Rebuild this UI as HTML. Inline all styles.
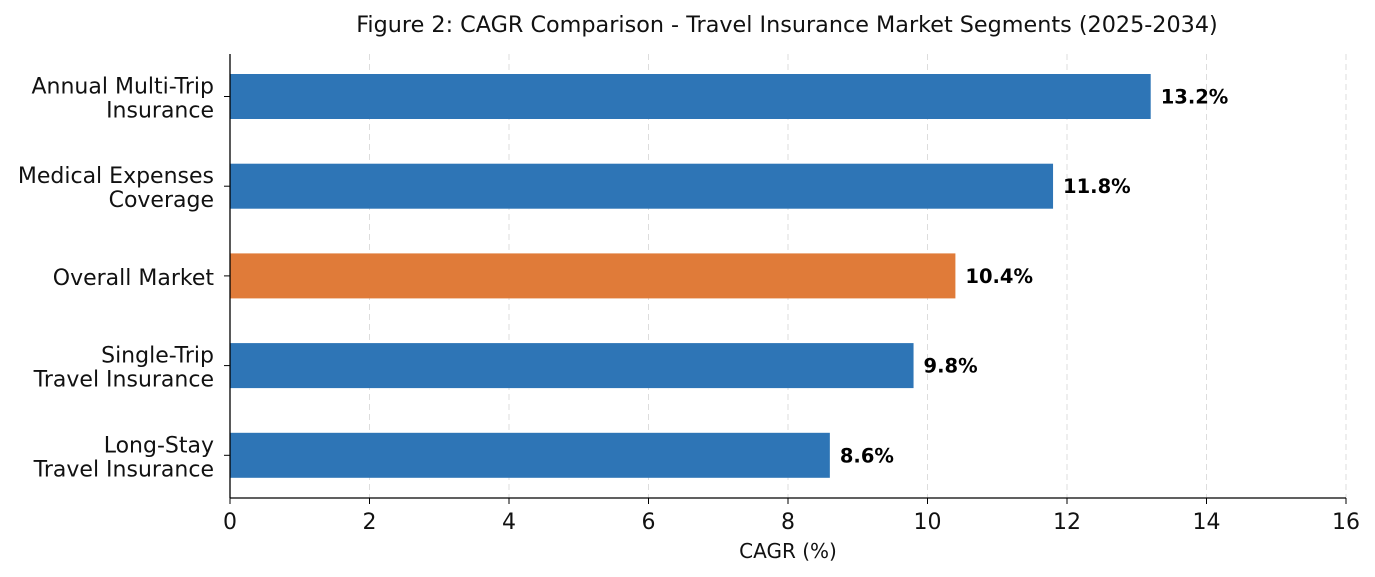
<!DOCTYPE html>
<html><head><meta charset="utf-8">
<style>
body{margin:0;background:#fff;}
svg{display:block;font-family:"DejaVu Sans","Liberation Sans",sans-serif;}
</style></head>
<body>
<svg id="chart" width="1375" height="577" viewBox="0 0 1375 577" xmlns="http://www.w3.org/2000/svg">
<text x="787" y="32" text-anchor="middle" font-size="22.3" fill="#111">Figure 2: CAGR Comparison - Travel Insurance Market Segments (2025-2034)</text>
<g id="grid"></g>
<g id="bars"></g>
<g id="yticks"></g>
<g id="xticks"></g>
<line x1="230" y1="54" x2="230" y2="498" stroke="#000" stroke-width="1.3"/>
<line x1="230" y1="498" x2="1346" y2="498" stroke="#000" stroke-width="1.3"/>
<text x="788" y="558" text-anchor="middle" font-size="20" fill="#111">CAGR (%)</text>
</svg>
<script>
const categories = [["Annual Multi-Trip","Insurance"],["Medical Expenses","Coverage"],["Overall Market"],["Single-Trip","Travel Insurance"],["Long-Stay","Travel Insurance"]];
const values = [13.2, 11.8, 10.4, 9.8, 8.6];
const valueLabels = ["13.2%","11.8%","10.4%","9.8%","8.6%"];
const highlight = [false, false, true, false, false];
const xTicks = [0,2,4,6,8,10,12,14,16];

const NS="http://www.w3.org/2000/svg";
const x0=230, x1=1346, xMax=16;
const xs = v => x0 + v/xMax*(x1-x0);
const yTop=54, yBot=498;
const yc = i => 96.5 + i*89.7;
const barH=45;
function mk(tag, attrs, parent){const e=document.createElementNS(NS,tag);for(const k in attrs)e.setAttribute(k,attrs[k]);document.getElementById(parent).appendChild(e);return e;}

xTicks.forEach(t=>{
  const X=xs(t);
  if(t>0){
    const g=mk('line',{x1:X,y1:yTop,x2:X,y2:yBot,stroke:'#ddd','stroke-width':1,'stroke-dasharray':'6,4'},'grid');
    
    
  }
  const tk=mk('line',{x1:X,y1:yBot,x2:X,y2:yBot+6,stroke:'#000','stroke-width':1},'xticks');
  
  
  const lb=mk('text',{x:X,y:yBot+31,'text-anchor':'middle','font-size':22,fill:'#111'},'xticks');
  lb.textContent=t;
  
  
});

categories.forEach((c,i)=>{
  const Y=yc(i);
  const r=mk('rect',{x:x0,y:Y-barH/2,width:xs(values[i])-x0,height:barH,fill:highlight[i]?'#e07b39':'#2e75b6'},'bars');
  
  
  const v=mk('text',{x:xs(values[i])+10,y:Y+7,'font-size':19.5,'font-weight':'bold',fill:'#000'},'bars');
  v.textContent=valueLabels[i];
  
  
  const tk=mk('line',{x1:x0-6,y1:Y,x2:x0,y2:Y,stroke:'#000','stroke-width':1},'yticks');
  
  
  const n=c.length;
  c.forEach((line,j)=>{
    const t=mk('text',{x:x0-16,y:Y+9+(j-(n-1)/2)*24,'text-anchor':'end','font-size':22,fill:'#111'},'yticks');
    t.textContent=line;
    
    
  });
});
</script>
</body></html>
